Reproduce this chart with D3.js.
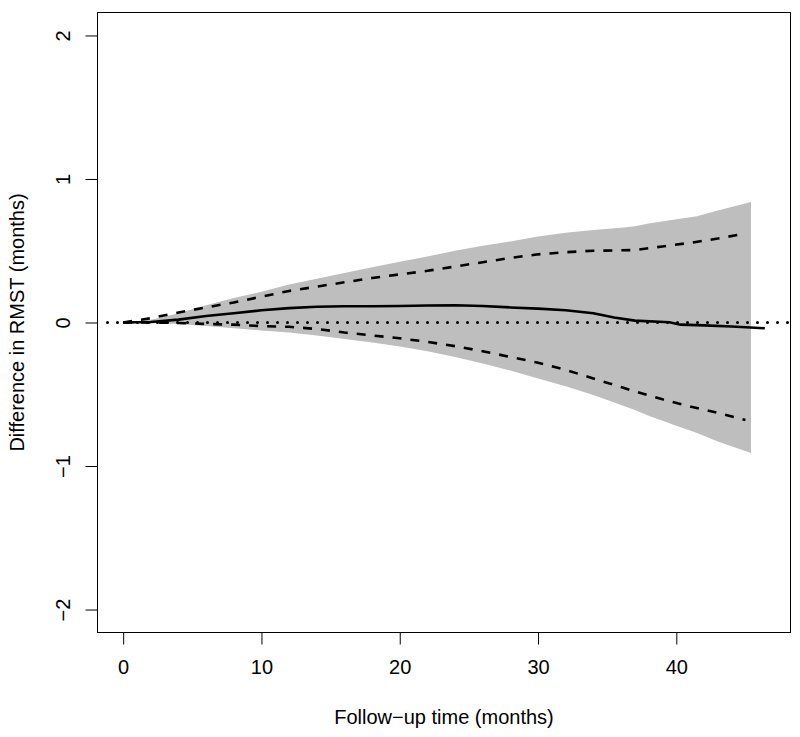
<!DOCTYPE html>
<html>
<head>
<meta charset="utf-8">
<script src="https://cdn.jsdelivr.net/npm/d3@7"></script>
<style>
  html, body { margin: 0; padding: 0; background: #fff; }
  #chart { width: 800px; height: 737px; }
  text { font-family: "Liberation Sans", Arial, sans-serif; fill: #000; }
</style>
</head>
<body>
<div id="chart"></div>
<script>
// confidence band (grey area)
const bandTime  = [0, 2, 4, 6, 8, 10, 12, 14, 16, 18, 20, 22, 24, 26, 28, 30, 32, 34, 36, 37, 38, 40, 41.5, 43, 45.4];
const bandUpper = [0, 0.02, 0.065, 0.12, 0.17, 0.215, 0.265, 0.305, 0.345, 0.385, 0.424, 0.46, 0.5, 0.535, 0.565, 0.6, 0.625, 0.645, 0.66, 0.67, 0.69, 0.72, 0.74, 0.78, 0.84];
const bandLower = [0, -0.003, -0.01, -0.025, -0.04, -0.055, -0.07, -0.09, -0.115, -0.14, -0.168, -0.2, -0.24, -0.285, -0.335, -0.39, -0.445, -0.505, -0.575, -0.61, -0.65, -0.72, -0.77, -0.83, -0.91];

// pointwise CI (dashed lines)
const ciTime  = [0, 2, 4, 6, 8, 10, 12, 14, 16, 18, 20, 22, 24, 26, 28, 30, 32, 34, 36, 37, 39, 41, 43, 45];
const ciUpper = [0, 0.03, 0.07, 0.105, 0.14, 0.18, 0.22, 0.25, 0.28, 0.31, 0.335, 0.36, 0.39, 0.42, 0.45, 0.475, 0.49, 0.5, 0.503, 0.505, 0.53, 0.555, 0.585, 0.62];
const ciLower = [0, 0, -0.003, -0.01, -0.015, -0.025, -0.03, -0.045, -0.07, -0.09, -0.11, -0.135, -0.165, -0.2, -0.24, -0.28, -0.33, -0.39, -0.45, -0.48, -0.535, -0.585, -0.63, -0.68];

// estimated difference (solid line)
const estTime = [0, 2, 4, 6, 8, 10, 12, 14, 16, 18, 20, 22, 24, 26, 28, 30, 32, 34, 35.5, 37, 39.5, 40.3, 42, 44, 46.4];
const estDiff = [0, 0.003, 0.02, 0.045, 0.065, 0.085, 0.1, 0.11, 0.113, 0.113, 0.115, 0.118, 0.12, 0.115, 0.105, 0.097, 0.085, 0.065, 0.035, 0.013, 0.002, -0.015, -0.02, -0.028, -0.04];

const xTicks = [0, 10, 20, 30, 40];
const yTicks = [-2, -1, 0, 1, 2];
const xLim = [0, 46.4];
const yLim = [-2, 2];

function draw() {
  const w = 800, h = 737;
  const left = 97.5, right = 790.5, top = 12.5, bottom = 632.5;

  // R style 4% axis extension
  const ext = (lim) => {
    const d = (lim[1] - lim[0]) * 0.04;
    return [lim[0] - d, lim[1] + d];
  };

  const xScale = d3.scaleLinear().domain(ext(xLim)).range([left, right]);
  const yScale = d3.scaleLinear().domain(ext(yLim)).range([bottom, top]);

  const svg = d3.select("#chart")
    .append("svg")
    .attr("width", w)
    .attr("height", h)
    .attr("viewBox", `0 0 ${w} ${h}`);

  svg.append("clipPath").attr("id", "plotclip")
    .append("rect")
    .attr("x", left).attr("y", top)
    .attr("width", right - left).attr("height", bottom - top);

  const plot = svg.append("g").attr("clip-path", "url(#plotclip)");

  const band = bandTime.map((t, i) => ({ t, lo: bandLower[i], hi: bandUpper[i] }));
  plot.append("path")
    .datum(band)
    .attr("fill", "#bebebe")
    .attr("stroke", "none")
    .attr("d", d3.area()
      .x(d => xScale(d.t))
      .y0(d => yScale(d.lo))
      .y1(d => yScale(d.hi)));

  const line = d3.line().x(d => xScale(d[0])).y(d => yScale(d[1]));

  [ciUpper, ciLower].forEach(vals => {
    plot.append("path")
      .datum(ciTime.map((t, i) => [t, vals[i]]))
      .attr("fill", "none")
      .attr("stroke", "#000")
      .attr("stroke-width", 2.6)
      .attr("stroke-dasharray", "9,9")
      .attr("d", line);
  });

  plot.append("path")
    .datum(estTime.map((t, i) => [t, estDiff[i]]))
    .attr("fill", "none")
    .attr("stroke", "#000")
    .attr("stroke-width", 2.6)
    .attr("stroke-linejoin", "round")
    .attr("d", line);

  // reference line at zero
  plot.append("line")
    .attr("x1", left).attr("x2", right)
    .attr("y1", yScale(0)).attr("y2", yScale(0))
    .attr("stroke", "#000")
    .attr("stroke-width", 3)
    .attr("stroke-linecap", "round")
    .attr("stroke-dasharray", "0,10")
    .attr("transform", "translate(10,0)");

  // box
  svg.append("rect")
    .attr("x", left).attr("y", top)
    .attr("width", right - left).attr("height", bottom - top)
    .attr("fill", "none")
    .attr("stroke", "#000")
    .attr("stroke-width", 1);

  // x axis
  const xAxis = svg.append("g")
    .attr("transform", `translate(0,${bottom})`)
    .call(d3.axisBottom(xScale).tickValues(xTicks).tickSize(12).tickPadding(15).tickSizeOuter(0));
  xAxis.select(".domain").remove();
  xAxis.selectAll("text")
    .style("font-size", "20px")
    .style("font-family", "Liberation Sans, Arial, sans-serif");

  // y axis, labels parallel to axis
  const yAxis = svg.append("g")
    .attr("transform", `translate(${left},0)`)
    .call(d3.axisLeft(yScale).tickValues(yTicks).tickSize(12).tickFormat(d => d < 0 ? "\u2212" + Math.abs(d) : d));
  yAxis.select(".domain").remove();
  yAxis.selectAll("text")
    .attr("x", null).attr("dy", null)
    .attr("text-anchor", "middle")
    .attr("transform", "translate(-28,0) rotate(-90)")
    .style("font-size", "20px")
    .style("font-family", "Liberation Sans, Arial, sans-serif");

  svg.append("text")
    .attr("x", (left + right) / 2)
    .attr("y", 724)
    .attr("text-anchor", "middle")
    .style("font-size", "20px")
    .text("Follow\u2212up time (months)");

  svg.append("text")
    .attr("transform", `translate(24,${(top + bottom) / 2}) rotate(-90)`)
    .attr("text-anchor", "middle")
    .style("font-size", "20px")
    .text("Difference in RMST (months)");
}

draw();
</script>
</body>
</html>
